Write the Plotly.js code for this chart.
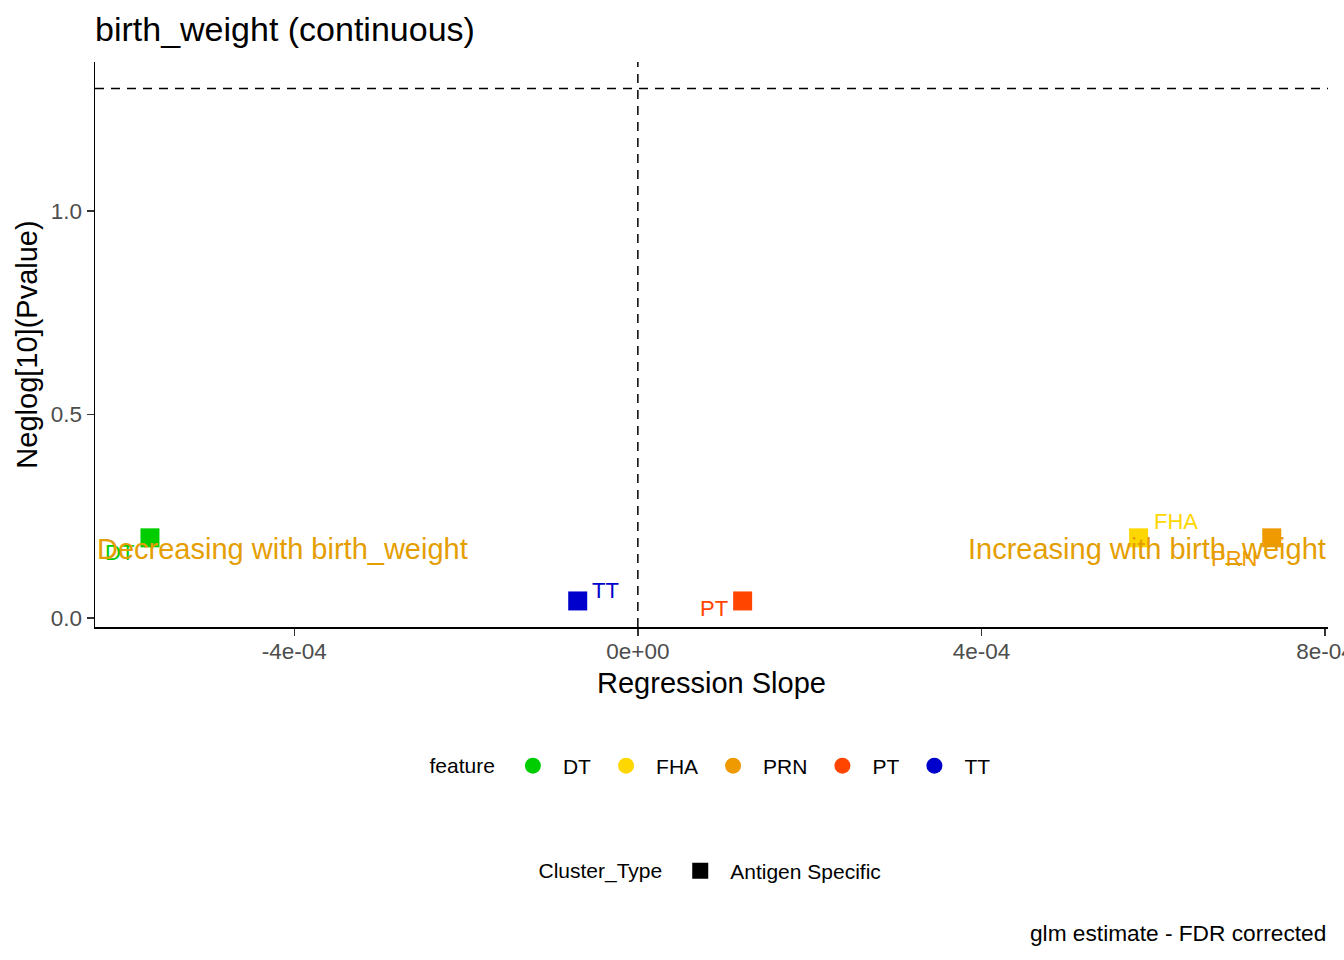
<!DOCTYPE html>
<html>
<head>
<meta charset="utf-8">
<script src="https://cdn.plot.ly/plotly-3.0.1.min.js"></script>
<style>html,body{margin:0;padding:0;background:#fff;}#chart{width:1344px;height:960px;}</style>
</head>
<body>
<div id="chart"></div>
<script>
// Data
var features = ["DT", "FHA", "PRN", "PT", "TT"];
var slopes = [-5.68e-4, 5.83e-4, 7.38e-4, 1.22e-4, -0.70e-4];
var neglogP = [0.197, 0.197, 0.197, 0.042, 0.042];
var featureColors = ["#00CD00", "#FFD700", "#EE9A00", "#FF4500", "#0000CD"];
var clusterTypes = ["Antigen Specific"];
var xTickVals = [-4e-4, 0, 4e-4, 8e-4];
var xTickText = ["-4e-04", "0e+00", "4e-04", "8e-04"];
var yTickVals = [0, 0.5, 1.0];
var yTickText = ["0.0", "0.5", "1.0"];
var xRange = [-6.32e-4, 8.035e-4];
var yRange = [-0.022, 1.366];
var pThreshold = 0.05;
var trendTexts = ["Decreasing with birth_weight", "Increasing with birth_weight"];
var trendY = 0.17;
// label offsets (style, px)
var labelShiftX = [-30, 37, -38, -29, 28];
var labelShiftY = [-15, 16, -21, -8, 10];

var FONT = "Liberation Sans, Arial, sans-serif";
var traces = [];
features.forEach(function (f, i) {
  traces.push({
    type: "scatter", mode: "markers", x: [slopes[i]], y: [neglogP[i]], name: f,
    marker: {symbol: "square", size: 19, color: featureColors[i]},
    showlegend: false, hoverinfo: "x+y+name"
  });
});
features.forEach(function (f, i) {
  traces.push({
    type: "scatter", mode: "markers", x: [null], y: [null], name: f,
    marker: {symbol: "circle", size: 18, color: featureColors[i]},
    showlegend: true, legend: "legend"
  });
});
clusterTypes.forEach(function (c) {
  traces.push({
    type: "scatter", mode: "markers", x: [null], y: [null], name: c,
    marker: {symbol: "square", size: 18, color: "#000000"},
    showlegend: true, legend: "legend2"
  });
});

var annotations = [];
features.forEach(function (f, i) {
  annotations.push({
    x: slopes[i], y: neglogP[i], xref: "x", yref: "y", text: f, showarrow: false,
    xshift: labelShiftX[i], yshift: labelShiftY[i],
    font: {family: FONT, size: 22, color: featureColors[i]}
  });
});
annotations.push({
  x: xRange[0], y: trendY, xref: "x", yref: "y", text: trendTexts[0], showarrow: false,
  xanchor: "left", yanchor: "middle", font: {family: FONT, size: 29, color: "#E59E00"}
});
annotations.push({
  x: xRange[1], y: trendY, xref: "x", yref: "y", text: trendTexts[1], showarrow: false,
  xanchor: "right", yanchor: "middle", font: {family: FONT, size: 29, color: "#E59E00"}
});
annotations.push({
  x: 1, y: -(933 - 627) / 565, xref: "paper", yref: "paper", text: "glm estimate - FDR corrected",
  showarrow: false, xanchor: "right", yanchor: "middle",
  font: {family: FONT, size: 22.7, color: "#000"}
});

var layout = {
  width: 1344, height: 960,
  margin: {l: 95, r: 16, t: 62, b: 333},
  paper_bgcolor: "#fff", plot_bgcolor: "#fff",
  font: {family: FONT, color: "#000"},
  title: {text: "birth_weight (continuous)", x: 95 / 1344, xanchor: "left", xref: "container",
          y: 1 - 29 / 960, yref: "container", yanchor: "middle",
          font: {family: FONT, size: 34, color: "#000"}},
  xaxis: {
    range: xRange, tickvals: xTickVals, ticktext: xTickText,
    showgrid: false, zeroline: false, showline: true, linecolor: "#000", linewidth: 1.5,
    ticks: "outside", ticklen: 7, tickwidth: 1.5, tickcolor: "#333",
    ticklabeloverflow: "allow", ticklabelstandoff: -4,
    tickfont: {family: FONT, size: 22.5, color: "#4D4D4D"},
    title: {text: "Regression Slope", standoff: 10, font: {family: FONT, size: 29, color: "#000"}},
    automargin: false
  },
  yaxis: {
    range: yRange, tickvals: yTickVals, ticktext: yTickText,
    showgrid: false, zeroline: false, showline: true, linecolor: "#000", linewidth: 1.5,
    ticks: "outside", ticklen: 7, tickwidth: 1.5, tickcolor: "#333",
    tickfont: {family: FONT, size: 22.5, color: "#4D4D4D"},
    title: {text: "Neglog[10](Pvalue)", standoff: 4, font: {family: FONT, size: 29, color: "#000"}},
    automargin: false
  },
  shapes: [
    {type: "line", xref: "x", yref: "paper", x0: 0, x1: 0, y0: 0, y1: 1,
     line: {color: "#000", width: 1.5, dash: "9px,7px"}},
    {type: "line", xref: "paper", yref: "y", x0: 0, x1: 1,
     y0: -Math.log10(pThreshold), y1: -Math.log10(pThreshold),
     line: {color: "#000", width: 1.5, dash: "9px,7px"}}
  ],
  annotations: annotations,
  legend: {
    orientation: "h", x: 0.5, xanchor: "center", y: -0.246, yanchor: "middle",
    itemwidth: 50,
    title: {text: "feature", side: "left", font: {family: FONT, size: 21, color: "#000"}},
    font: {family: FONT, size: 21, color: "#000"}, bgcolor: "rgba(0,0,0,0)"
  },
  legend2: {
    orientation: "h", x: 0.5, xanchor: "center", y: -0.432, yanchor: "middle",
    itemwidth: 50,
    title: {text: "Cluster_Type", side: "left", font: {family: FONT, size: 21, color: "#000"}},
    font: {family: FONT, size: 21, color: "#000"}, bgcolor: "rgba(0,0,0,0)"
  },
  showlegend: true
};

Plotly.newPlot("chart", traces, layout, {displayModeBar: false, staticPlot: true});
</script>
</body>
</html>
